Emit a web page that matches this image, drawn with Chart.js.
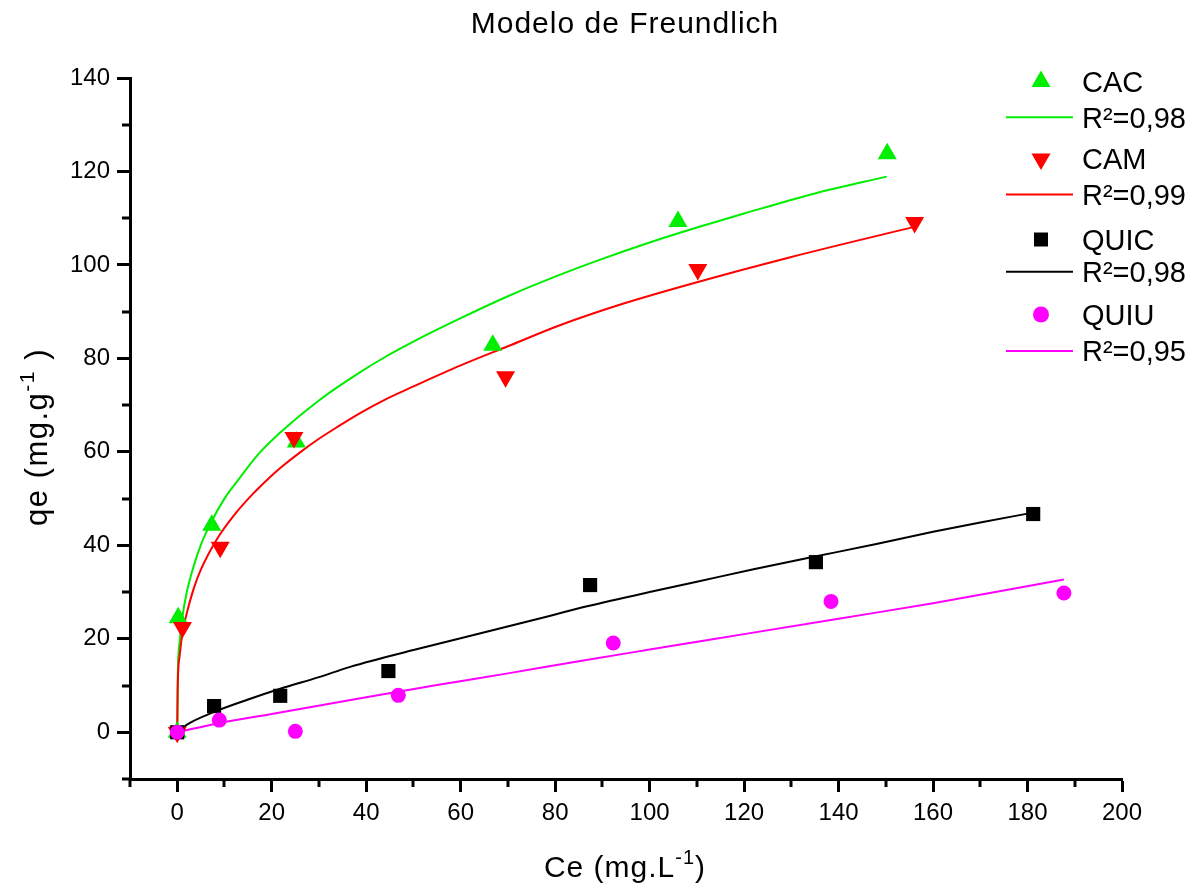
<!DOCTYPE html>
<html>
<head>
<meta charset="utf-8">
<script src="https://cdn.jsdelivr.net/npm/chart.js@4.4.1/dist/chart.umd.min.js"></script>
<style>
  html, body { margin: 0; padding: 0; background: #fff; }
  #wrap { width: 1194px; height: 888px; }
</style>
</head>
<body>
<div id="wrap"><canvas id="freundlichChart"></canvas></div>
<script>
// pontos experimentais (Ce em mg/L, qe em mg/g)
const cacCe = [0, 0.2, 7.3, 25.2, 66.8, 106, 150.3];
const cacQe = [0, 24.5, 44.3, 62.1, 82.8, 109.3, 123.8];
const camCe = [0, 1.1, 9.1, 24.7, 69.5, 110.2, 156.1];
const camQe = [0, 22.4, 39.6, 63.1, 76.1, 99.0, 109.1];
const quicCe = [0, 7.8, 21.8, 44.7, 87.4, 135.2, 181.2];
const quicQe = [0, 5.6, 7.8, 13.1, 31.5, 36.4, 46.7];
const quiuCe = [0, 8.9, 25, 46.8, 92.3, 138.4, 187.7];
const quiuQe = [0, 2.6, 0.2, 7.9, 19.1, 28.0, 29.8];

// curvas ajustadas (Freundlich), lidas ao longo de cada curva
const cacFitCe = [0, 0.1, 0.5, 1, 2, 3.5, 5, 7, 10, 13, 17, 22, 26, 30, 33, 38, 44, 50, 60, 70, 80, 90, 100, 110, 120, 135, 150.2];
const cacFitQe = [0, 11.5, 19.2, 24, 29.9, 35.6, 40.1, 44.6, 50.0, 54.1, 59.3, 64.3, 67.8, 71.0, 73.2, 76.6, 80.3, 83.6, 88.6, 93.3, 97.5, 101.3, 104.8, 108.0, 111.0, 115.3, 118.9];
const camFitCe = [0, 0.1, 0.5, 1.2, 2, 3.5, 5, 8.4, 12, 16, 19, 22, 26, 30, 34, 38.7, 44, 50, 60, 70, 81, 95, 110, 130, 156.2];
const camFitQe = [0, 9.6, 16.3, 21.8, 25.4, 30.8, 34.8, 41.3, 46.4, 51.0, 54.0, 56.7, 59.9, 62.8, 65.4, 68.3, 71.2, 74.0, 78.5, 82.6, 87.1, 91.9, 96.3, 101.7, 108.2];
const quicFitCe = [0, 2, 7.7, 15, 21.8, 30, 36.6, 50, 60, 75, 87, 100, 110, 122, 135, 148, 160, 170, 181.2];
const quicFitQe = [0, 1.6, 4.3, 7.0, 9.3, 11.8, 14.0, 17.6, 20.1, 23.9, 27.0, 30.0, 32.2, 34.9, 37.6, 40.3, 42.9, 44.9, 47.0];
const quiuFitCe = [0, 9, 20, 40, 55, 70, 85, 100, 120, 140, 160, 187.7];
const quiuFitQe = [0, 2.0, 3.9, 7.5, 10.1, 12.6, 15.2, 17.7, 21.0, 24.3, 27.6, 32.7];

const xTicks = [0, 20, 40, 60, 80, 100, 120, 140, 160, 180, 200];
const xMinor = [-10, 10, 30, 50, 70, 90, 110, 130, 150, 170, 190];
const yTicks = [0, 20, 40, 60, 80, 100, 120, 140];
const yMinor = [-10, 10, 30, 50, 70, 90, 110, 130];

const legendRows = [
  { label: 'CAC', fit: 'R²=0,98', color: '#00ee00', shape: 'up' },
  { label: 'CAM', fit: 'R²=0,99', color: '#ff0000', shape: 'down' },
  { label: 'QUIC', fit: 'R²=0,98', color: '#000000', shape: 'square' },
  { label: 'QUIU', fit: 'R²=0,95', color: '#ff00ff', shape: 'circle' }
];

const FONT = '"Liberation Sans", Arial, sans-serif';

function pares(xs, ys) {
  return xs.map((v, i) => ({ x: v, y: ys[i] }));
}

function pontos(label, xs, ys, color, style, radius, rotation, order) {
  return {
    label: label,
    data: pares(xs, ys),
    showLine: false,
    pointStyle: style,
    pointRadius: radius,
    pointRotation: rotation,
    backgroundColor: color,
    borderColor: color,
    borderWidth: 0,
    order: order
  };
}

function curva(xs, ys, color, order) {
  return {
    data: pares(xs, ys),
    showLine: true,
    pointRadius: 0,
    borderColor: color,
    borderWidth: 2,
    cubicInterpolationMode: 'monotone',
    fill: false,
    order: order
  };
}

function marcador(ctx, shape, cx, cy, color) {
  ctx.fillStyle = color;
  ctx.beginPath();
  if (shape === 'up') {
    const r = 11;
    ctx.moveTo(cx, cy - r);
    ctx.lineTo(cx + r * 0.866, cy + r / 2);
    ctx.lineTo(cx - r * 0.866, cy + r / 2);
  } else if (shape === 'down') {
    const r = 11;
    ctx.moveTo(cx, cy + r);
    ctx.lineTo(cx + r * 0.866, cy - r / 2);
    ctx.lineTo(cx - r * 0.866, cy - r / 2);
  } else if (shape === 'square') {
    ctx.rect(cx - 7, cy - 7, 14, 14);
  } else {
    ctx.arc(cx, cy, 8, 0, Math.PI * 2);
  }
  ctx.closePath();
  ctx.fill();
}

// texto com expoente (ex.: mg.L^-1)
function textoSobrescrito(ctx, partes, cx, baseline, size, supSize, spacing) {
  ctx.letterSpacing = spacing + 'px';
  let total = 0;
  partes.forEach(p => {
    ctx.font = (p.sup ? supSize : size) + 'px ' + FONT;
    p.w = ctx.measureText(p.t).width;
    total += p.w;
  });
  let x = cx - total / 2;
  ctx.textAlign = 'left';
  ctx.textBaseline = 'alphabetic';
  partes.forEach(p => {
    ctx.font = (p.sup ? supSize : size) + 'px ' + FONT;
    ctx.fillText(p.t, x, p.sup ? baseline - size * 0.42 : baseline);
    x += p.w;
  });
  ctx.letterSpacing = '0px';
}

const extras = {
  id: 'extras',
  afterDraw(chart) {
    const { ctx, chartArea } = chart;
    const sx = chart.scales.x;
    const sy = chart.scales.y;
    ctx.save();

    // marcas menores dos eixos
    ctx.strokeStyle = '#000';
    ctx.lineWidth = 3;
    xMinor.forEach(v => {
      const px = Math.round(sx.getPixelForValue(v));
      ctx.beginPath();
      ctx.moveTo(px, chartArea.bottom);
      ctx.lineTo(px, chartArea.bottom + 8);
      ctx.stroke();
    });
    yMinor.forEach(v => {
      const py = Math.round(sy.getPixelForValue(v));
      ctx.beginPath();
      ctx.moveTo(chartArea.left - 8, py);
      ctx.lineTo(chartArea.left, py);
      ctx.stroke();
    });

    ctx.fillStyle = '#000';

    // titulo
    ctx.font = '30px ' + FONT;
    ctx.letterSpacing = '1px';
    ctx.textAlign = 'center';
    ctx.textBaseline = 'alphabetic';
    ctx.fillText('Modelo de Freundlich', 625, 33);
    ctx.letterSpacing = '0px';

    // titulo do eixo x
    textoSobrescrito(ctx, [{ t: 'Ce (mg.L' }, { t: '-1', sup: true }, { t: ')' }], 625, 877, 30, 20, 1);

    // titulo do eixo y
    ctx.save();
    ctx.translate(47, 437);
    ctx.rotate(-Math.PI / 2);
    textoSobrescrito(ctx, [{ t: 'qe (mg.g' }, { t: '-1', sup: true }, { t: ' )' }], 0, 0, 31, 21, 1.5);
    ctx.restore();

    // legenda
    const markerY = [81.5, 159, 239.5, 314.5];
    const lineY = [117.2, 194.5, 271.7, 351];
    legendRows.forEach((row, i) => {
      marcador(ctx, row.shape, 1041, markerY[i], row.color);
      ctx.strokeStyle = row.color;
      ctx.lineWidth = 2;
      ctx.beginPath();
      ctx.moveTo(1006, lineY[i]);
      ctx.lineTo(1073, lineY[i]);
      ctx.stroke();
      ctx.fillStyle = '#000';
      ctx.font = '29px ' + FONT;
      ctx.textAlign = 'left';
      ctx.textBaseline = 'alphabetic';
      ctx.fillText(row.label, 1082, markerY[i] + 10.4);
      ctx.fillText(row.fit, 1082, lineY[i] + 10.4);
    });

    ctx.restore();
  }
};

const eixo = {
  type: 'linear',
  border: { display: true, color: '#000', width: 3 },
  grid: { drawOnChartArea: false, drawTicks: true, tickLength: 13, tickWidth: 3, tickColor: '#000' },
  ticks: { color: '#000', font: { family: FONT, size: 24 }, padding: 7 }
};

new Chart(document.getElementById('freundlichChart'), {
  type: 'scatter',
  data: {
    datasets: [
      pontos('QUIU', quiuCe, quiuQe, '#ff00ff', 'circle', 7.5, 0, 0),
      pontos('QUIC', quicCe, quicQe, '#000000', 'rect', 10, 0, 1),
      pontos('CAM', camCe, camQe, '#ff0000', 'triangle', 11, 180, 2),
      pontos('CAC', cacCe, cacQe, '#00ee00', 'triangle', 11, 0, 3),
      curva(quiuFitCe, quiuFitQe, '#ff00ff', 10),
      curva(quicFitCe, quicFitQe, '#000000', 11),
      curva(camFitCe, camFitQe, '#ff0000', 12),
      curva(cacFitCe, cacFitQe, '#00ee00', 13)
    ]
  },
  options: {
    responsive: true,
    maintainAspectRatio: false,
    animation: false,
    layout: { padding: { top: 78, right: 72, bottom: 0, left: 0 } },
    plugins: {
      legend: { display: false },
      title: { display: false },
      tooltip: { enabled: false }
    },
    scales: {
      x: Object.assign({}, eixo, {
        min: -10,
        max: 200,
        afterBuildTicks: s => { s.ticks = xTicks.map(v => ({ value: v })); },
        afterFit: s => { s.height = 109; }
      }),
      y: Object.assign({}, eixo, {
        min: -10,
        max: 140,
        afterBuildTicks: s => { s.ticks = yTicks.map(v => ({ value: v })); },
        afterFit: s => { s.width = 130; }
      })
    }
  },
  plugins: [extras]
});
</script>
</body>
</html>
